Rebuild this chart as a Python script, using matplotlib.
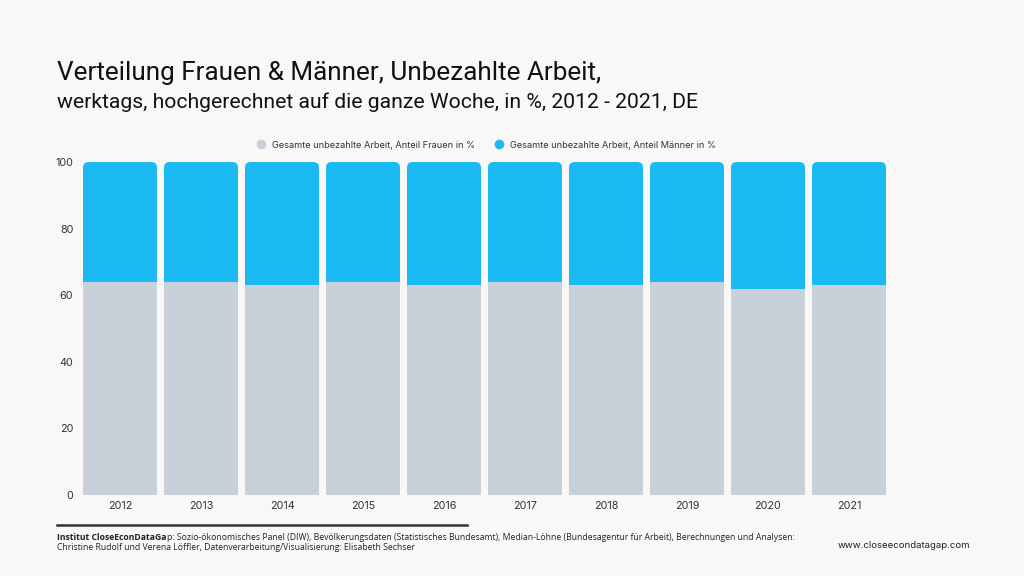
import matplotlib
matplotlib.use("Agg")
import matplotlib.pyplot as plt
from matplotlib.patches import FancyBboxPatch
from matplotlib.lines import Line2D

years = ["2012", "2013", "2014", "2015", "2016", "2017", "2018", "2019", "2020", "2021"]
frauen = [64, 64, 63, 64, 63, 64, 63, 64, 62, 63]
maenner = [100 - v for v in frauen]
yticks = [0, 20, 40, 60, 80, 100]

c_f = "#C8D0D9"
c_m = "#1CBAF3"
bg = "#F9F8F6"

fig = plt.figure(figsize=(10.24, 5.76), dpi=100, facecolor=bg)
ax = fig.add_axes([83/1024, 1-495/576, 803/1024, 333/576])
ax.set_facecolor(bg)

x = list(range(len(years)))
w = 0.914
ax.bar(x, frauen, width=w, color=c_f, zorder=3)
mbars = ax.bar(x, maenner, bottom=frauen, width=w, color=c_m, zorder=2)
# replace top segments with boxes rounded at the top (bottom corners hidden under lower segment)
for b in mbars:
    x0, y0, bw, bh = b.get_x(), b.get_y(), b.get_width(), b.get_height()
    b.remove()
    p = FancyBboxPatch((x0, y0 - 3), bw, bh + 3,
                       boxstyle="round,pad=0,rounding_size=0.07",
                       mutation_aspect=24,
                       facecolor=c_m, edgecolor="none", zorder=2)
    ax.add_patch(p)

ax.set_xlim(-0.457, len(years) - 1 + 0.457)
ax.set_ylim(0, 100)
ax.set_xticks(x)
ax.set_xticklabels(years, fontsize=7.8, color="#333333", family="Inter")
ax.set_yticks(yticks)
ax.set_yticklabels([str(v) for v in yticks], fontsize=7.8, color="#333333", family="Inter")
ax.tick_params(length=0, pad=4)
ax.tick_params(axis="y", pad=7)
for s in ax.spines.values():
    s.set_visible(False)

fig.text(57/1024, 1-73/576, "Verteilung Frauen & Männer, Unbezahlte Arbeit,",
         fontsize=18.8, family="Roboto", color="#111111", va="center")
fig.text(57/1024, 1-102/576, "werktags, hochgerechnet auf die ganze Woche, in %, 2012 - 2021, DE",
         fontsize=15.2, family="Roboto", color="#111111", va="center")

handles = [Line2D([], [], marker="o", linestyle="none", markersize=7, markerfacecolor=c_f, markeredgecolor="none"),
           Line2D([], [], marker="o", linestyle="none", markersize=7, markerfacecolor=c_m, markeredgecolor="none")]
fig.legend(handles, ["Gesamte unbezahlte Arbeit, Anteil Frauen in %", "Gesamte unbezahlte Arbeit, Anteil Männer in %"],
           loc="center", bbox_to_anchor=(484/1024, 1-145/576), ncol=2, frameon=False,
           prop={"family": "Inter", "size": 6.6}, handletextpad=0.2, columnspacing=1.6,
           labelcolor="#333333")

fig.add_artist(Line2D([57/1024, 467/1024], [1-525/576, 1-525/576], color="#333333", linewidth=1.8))
fs = 6.25
t1 = fig.text(57/1024, 1-537/576, "Institut CloseEconDataGa", fontsize=fs, family="Open Sans",
              weight="bold", color="#222222", va="center")
fig.canvas.draw()
bb = t1.get_window_extent(renderer=fig.canvas.get_renderer())
fig.text((bb.x1 + 0.8)/1024, 1-537/576, "p: Sozio-ökonomisches Panel (DIW), Bevölkerungsdaten (Statistisches Bundesamt), Median-Löhne (Bundesagentur für Arbeit), Berechnungen und Analysen:",
         fontsize=fs, family="Open Sans", color="#222222", va="center")
fig.text(57/1024, 1-548/576, "Christine Rudolf und Verena Löffler, Datenverarbeitung/Visualisierung: Elisabeth Sechser",
         fontsize=fs, family="Open Sans", color="#222222", va="center")
fig.text(838/1024, 1-545/576, "www.closeecondatagap.com", fontsize=6.9, family="Inter", color="#222222", va="center")

fig.savefig("out.png", dpi=100, facecolor=bg)
